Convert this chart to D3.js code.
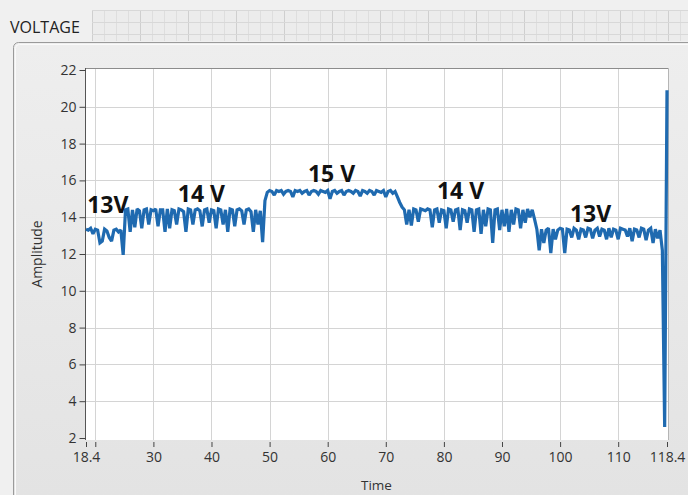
<!DOCTYPE html>
<html>
<head>
<meta charset="utf-8">
<script src="https://cdn.jsdelivr.net/npm/d3@7/dist/d3.min.js"></script>
<style>
  html, body { margin: 0; padding: 0; background: #f0f0f0; }
  svg { display: block; }
</style>
</head>
<body>
<svg id="chart" width="688" height="495"></svg>
<script>
// Waveform: start time, sample interval, samples
const t0 = 18.4;
const dt = 0.4;
const amplitude = [
  13.35,13.3,13.4,13.1,13.35,13.3,12.6,12.7,13.35,13.25,12.9,12.7,13.3,13.35,13.2,13.3,11.95,
  14.4,14.45,13.2,14.4,13.45,14.45,14.35,13.4,14.4,14.45,13.6,14.4,14.35,14.45,13.5,14.4,14.4,13.2,
  14.45,13.4,14.4,14.35,13.6,14.45,14.4,14.3,13.2,14.45,14.4,13.6,14.4,14.45,14.35,13.5,14.4,14.45,
  13.7,14.4,14.35,13.4,14.45,14.4,13.6,14.4,13.2,14.45,14.4,13.5,14.4,14.45,14.35,13.6,14.4,14.45,
  14.3,13.2,14.4,13.6,14.35,12.65,14.9,15.35,
  15.45,15.4,15.2,15.45,15.4,15.45,15.25,15.4,15.45,15.4,15.1,15.45,15.4,15.45,15.3,15.4,15.45,15.2,
  15.4,15.45,15.4,15.25,15.45,15.4,15.35,15.45,15.0,15.4,15.45,15.3,15.4,15.45,15.2,15.4,15.45,15.4,
  15.3,15.45,15.4,15.15,15.45,15.4,15.3,15.45,15.4,15.2,15.45,15.4,15.35,15.45,15.1,15.4,15.45,15.3,
  15.4,15.1,14.8,14.55,14.4,
  13.6,14.4,13.55,14.45,14.4,13.75,14.45,14.4,14.35,14.45,14.4,13.45,14.4,14.45,13.7,14.4,14.35,13.4,
  14.45,14.4,13.75,14.4,14.45,13.3,14.4,14.35,13.7,14.45,14.4,13.2,14.4,14.45,13.1,14.4,13.5,14.45,
  14.4,12.6,14.4,14.45,13.3,14.4,13.5,14.45,13.2,14.4,13.6,14.45,14.4,13.4,14.4,13.7,14.45,14.0,14.4,
  13.9,13.35,12.2,13.35,12.6,13.3,13.4,12.05,13.35,12.8,13.3,13.4,13.35,12.05,13.35,13.3,12.9,13.4,
  13.3,12.8,13.35,13.3,12.9,13.4,13.35,12.85,13.3,13.4,12.95,13.35,13.3,12.8,13.4,12.9,13.35,13.3,
  12.8,13.4,13.35,13.3,12.95,13.4,12.7,13.35,13.3,12.9,13.4,13.35,12.75,13.3,13.4,12.6,13.35,12.85,
  13.3,12.2,2.6,20.9
];

// Axes
const xDomain = [18.4, 118.4];
const yDomain = [2, 22];
const xTickValues = [18.4, 20, 30, 40, 50, 60, 70, 80, 90, 100, 110, 118.4];
const xTickLabels = ["18.4", "", "30", "40", "50", "60", "70", "80", "90", "100", "110", "118.4"];
const xGridValues = [20, 30, 40, 50, 60, 70, 80, 90, 100, 110];
const yTickValues = [2, 4, 6, 8, 10, 12, 14, 16, 18, 20, 22];
const yGridValues = [4, 6, 8, 10, 12, 14, 16, 18, 20];

// Annotations
const noteText = ["13V", "14 V", "15 V", "14 V", "13V"];
const noteTime = [18.6, 34.2, 56.6, 78.8, 101.7];
const noteAmp  = [14.23, 14.83, 15.91, 14.99, 13.74];

const svg = d3.select("#chart");
const W = 688, H = 495;
const plot = { left: 86, right: 667, top: 70, bottom: 438 };
const font = "'Open Sans', 'Noto Sans', sans-serif";

// Front panel background with faint LabVIEW grid on the top strip
svg.append("rect").attr("width", W).attr("height", H).attr("fill", "#f0f0f0");
const strip = svg.append("g");
strip.append("rect").attr("x", 92).attr("y", 10).attr("width", W - 92).attr("height", 31).attr("fill", "#ececec");
for (let gx = 92; gx < W; gx += 12) {
  strip.append("line").attr("x1", gx + 0.5).attr("x2", gx + 0.5).attr("y1", 10).attr("y2", 41)
    .attr("stroke", gx % 48 === 44 ? "#cfcfcf" : "#dedede").attr("stroke-width", 1);
}
[10, 22, 34].forEach(gy => {
  strip.append("line").attr("x1", 92).attr("x2", W).attr("y1", gy + 0.5).attr("y2", gy + 0.5)
    .attr("stroke", "#d8d8d8");
});

svg.append("text").attr("x", 10).attr("y", 33)
  .attr("font-family", font).attr("font-size", 16)
  .attr("fill", "#222").text("VOLTAGE");

// Panel frame
const grad = svg.append("defs").append("linearGradient").attr("id", "pg")
  .attr("x1", 0).attr("y1", 0).attr("x2", 0).attr("y2", 1);
grad.append("stop").attr("offset", "0%").attr("stop-color", "#eeeeee");
grad.append("stop").attr("offset", "100%").attr("stop-color", "#e2e2e2");
svg.append("rect").attr("x", 13.5).attr("y", 42.5).attr("width", W + 10).attr("height", H)
  .attr("rx", 5).attr("fill", "url(#pg)").attr("stroke", "#9a9a9a").attr("stroke-width", 1);
svg.append("rect").attr("x", 15.5).attr("y", 44.5).attr("width", W + 10).attr("height", H)
  .attr("rx", 4).attr("fill", "none").attr("stroke", "#fafafa").attr("stroke-width", 1);

const x = d3.scaleLinear().domain(xDomain).range([plot.left, plot.right]);
const y = d3.scaleLinear().domain(yDomain).range([plot.bottom, plot.top]);

// Plot area
svg.append("rect").attr("x", plot.left).attr("y", plot.top - 1)
  .attr("width", plot.right - plot.left + 1).attr("height", plot.bottom - plot.top + 3)
  .attr("fill", "#ffffff");

const grid = svg.append("g");
grid.selectAll("line.v").data(xGridValues).join("line").attr("class", "v")
  .attr("x1", d => Math.round(x(d)) + 0.5).attr("x2", d => Math.round(x(d)) + 0.5)
  .attr("y1", plot.top - 1).attr("y2", plot.bottom + 2)
  .attr("stroke", "#d4d4d4").attr("stroke-width", 1);
grid.selectAll("line.h").data(yGridValues).join("line").attr("class", "h")
  .attr("x1", plot.left).attr("x2", plot.right + 1)
  .attr("y1", d => Math.round(y(d)) + 0.5).attr("y2", d => Math.round(y(d)) + 0.5)
  .attr("stroke", "#d4d4d4").attr("stroke-width", 1);

// Plot border (top/right)
svg.append("line").attr("x1", plot.left).attr("x2", plot.right + 1.5)
  .attr("y1", plot.top - 1.5).attr("y2", plot.top - 1.5).attr("stroke", "#8c8c8c");
svg.append("line").attr("x1", plot.right + 1.5).attr("x2", plot.right + 1.5)
  .attr("y1", plot.top - 1.5).attr("y2", plot.bottom + 2).attr("stroke", "#b5b5b5");

// Y axis
const yAxis = d3.axisLeft(y).tickValues(yTickValues).tickSize(6).tickPadding(3).tickFormat(d3.format("d"));
const gy = svg.append("g").attr("transform", `translate(${plot.left - 0.5},0)`).call(yAxis);
gy.select(".domain").attr("stroke", "#555").attr("d", `M0,${plot.top - 2}V${plot.bottom + 2}`);
gy.selectAll(".tick line").attr("stroke", "#444");
gy.selectAll(".tick text").attr("font-family", font)
  .attr("font-size", 14).attr("fill", "#333");

// X axis
const xAxis = d3.axisBottom(x).tickValues(xTickValues).tickSize(5).tickPadding(5)
  .tickFormat((d, i) => xTickLabels[i]);
const gx = svg.append("g").attr("transform", `translate(0,${plot.bottom + 4})`).call(xAxis);
gx.select(".domain").remove();
gx.selectAll(".tick line").attr("stroke", "#444");
gx.selectAll(".tick text").attr("font-family", font)
  .attr("font-size", 14).attr("fill", "#333");

// Axis titles
svg.append("text").attr("x", (plot.left + plot.right) / 2).attr("y", 490)
  .attr("text-anchor", "middle").attr("font-family", font)
  .attr("font-size", 13.5).attr("fill", "#333").text("Time");
svg.append("text").attr("transform", `translate(42,${(plot.top + plot.bottom) / 2}) rotate(-90)`)
  .attr("text-anchor", "middle").attr("font-family", font)
  .attr("font-size", 14).attr("fill", "#333").text("Amplitude");

// Signal
const line = d3.line().x((d, i) => x(t0 + i * dt)).y(d => y(d));
svg.append("path").datum(amplitude)
  .attr("d", line).attr("fill", "none")
  .attr("stroke", "#1f6ab0").attr("stroke-width", 3.2).attr("stroke-linejoin", "miter")
  .attr("stroke-miterlimit", 2);

// Annotations
svg.selectAll("text.note").data(noteText).join("text").attr("class", "note")
  .attr("x", (d, i) => x(noteTime[i])).attr("y", (d, i) => y(noteAmp[i]))
  .attr("font-family", font).attr("font-weight", 700)
  .attr("font-size", 23).attr("fill", "#111").text(d => d);
</script>
</body>
</html>
